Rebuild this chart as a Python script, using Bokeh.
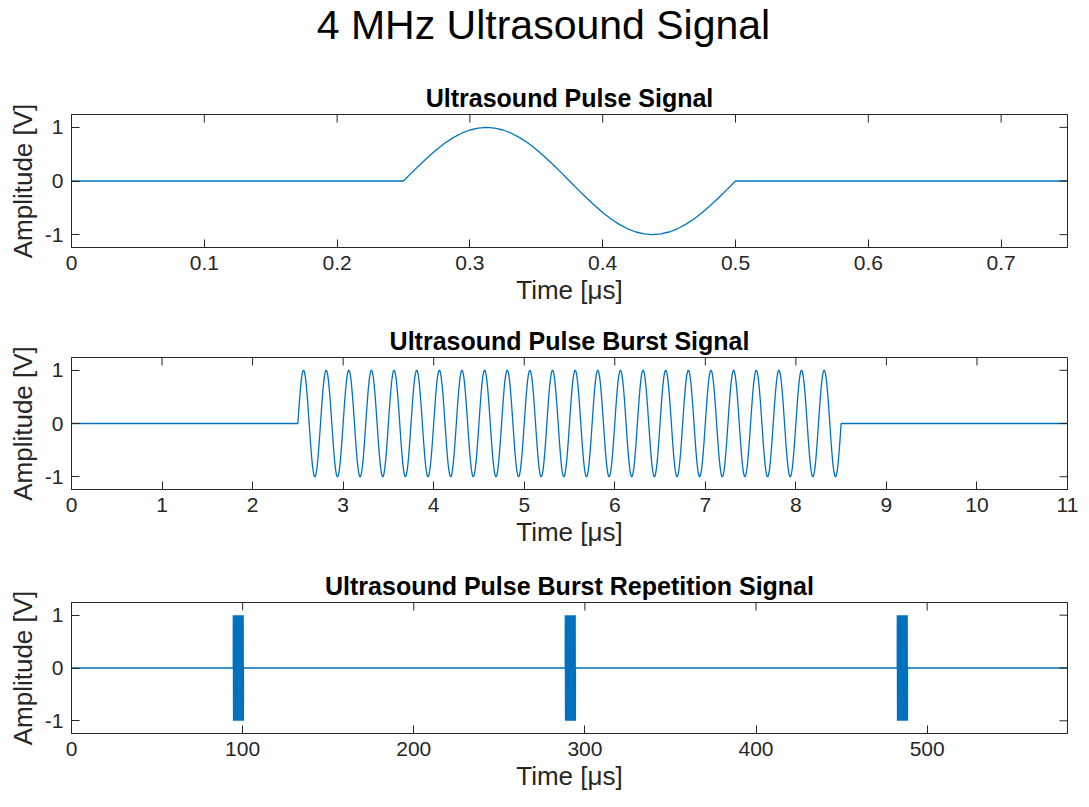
import numpy as np
from bokeh.plotting import figure
from bokeh.models import Title, FixedTicker, Range1d, Div
from bokeh.layouts import column
from bokeh.embed import file_html
from bokeh.resources import INLINE

# ---- data ----
freq_mhz = 4.0                      # carrier frequency, MHz (cycles per µs)
pulse_start_us = [0.25]             # single pulse
pulse_cycles = 1
pulse_xmax = 0.75
burst_start_us = [2.5]              # single burst
burst_cycles = 24
burst_xmax = 11
rep_start_us = [94.5, 288.5, 482.5] # repeated bursts
rep_xmax = 582

ticks1 = [0, 0.1, 0.2, 0.3, 0.4, 0.5, 0.6, 0.7]
ticks2 = list(range(0, 12))
ticks3 = [0, 100, 200, 300, 400, 500]
yticks = [-1, 0, 1]
ylim = 1.24

main_title = "4 MHz Ultrasound Signal"
titles = ["Ultrasound Pulse Signal", "Ultrasound Pulse Burst Signal",
          "Ultrasound Pulse Burst Repetition Signal"]
xlabel = "Time [μs]"
ylabel = "Amplitude [V]"

SPP = 40  # samples per period


def build_signal(starts, cycles, xmax):
    xs, ys = [0.0], [0.0]
    period = 1.0 / freq_mhz
    for s in starts:
        t = s + np.linspace(0, cycles * period, cycles * SPP + 1)
        xs += [s] + list(t)
        ys += [0.0] + list(np.sin(2 * np.pi * freq_mhz * (t - s)))
    xs.append(xmax)
    ys.append(0.0)
    return xs, ys


BLUE = "#0072BD"
AX = "#262626"
FONT = "Liberation Sans"
WIDTH = 1081
BL, BR = 71, 14
FRAME_W = WIDTH - BL - BR
TICK = 8
HEAD_H = 60


def make_fig(xs, ys, xmax, xticks, title, height, top, bottom, frame_h):
    p = figure(width=WIDTH, height=height, output_backend="svg", toolbar_location=None,
               x_range=Range1d(0, xmax), y_range=Range1d(-ylim, ylim),
               min_border_left=BL, min_border_right=BR, min_border_top=top,
               min_border_bottom=bottom, x_axis_label=xlabel, y_axis_label=ylabel)
    p.line(xs, ys, line_color=BLUE, line_width=1.3)
    p.grid.visible = False
    p.outline_line_color = AX
    p.outline_line_width = 1
    for ax, tk in ((p.xaxis[0], xticks), (p.yaxis[0], yticks)):
        ax.ticker = FixedTicker(ticks=tk)
        ax.axis_line_color = AX
        ax.major_tick_line_color = AX
        ax.major_tick_in = TICK
        ax.major_tick_out = 0
        ax.minor_tick_line_color = None
        ax.major_label_text_font = FONT
        ax.major_label_text_font_size = "21px"
        ax.major_label_text_color = AX
        ax.axis_label_text_font = FONT
        ax.axis_label_text_font_size = "26px"
        ax.axis_label_text_font_style = "normal"
        ax.axis_label_text_color = AX
    p.yaxis[0].major_label_overrides = {-1: "-1", 0: "0", 1: "1"}
    p.xaxis[0].major_label_standoff = 8
    p.xaxis[0].axis_label_standoff = 2
    p.yaxis[0].major_label_standoff = 8
    p.yaxis[0].axis_label_standoff = 4
    # mirrored inward ticks on the top and right edges of the box
    dy = TICK * 2 * ylim / frame_h
    dx = TICK * xmax / FRAME_W
    p.segment(x0=xticks, y0=[ylim] * len(xticks), x1=xticks, y1=[ylim - dy] * len(xticks),
              line_color=AX, line_width=1)
    p.segment(x0=[xmax] * len(yticks), y0=yticks, x1=[xmax - dx] * len(yticks), y1=yticks,
              line_color=AX, line_width=1)
    p.add_layout(Title(text=title, align="center", text_font=FONT, text_font_size="25px",
                       text_font_style="bold", text_color="black", standoff=5), "above")
    return p


x1, y1 = build_signal(pulse_start_us, pulse_cycles, pulse_xmax)
x2, y2 = build_signal(burst_start_us, burst_cycles, burst_xmax)
x3, y3 = build_signal(rep_start_us, burst_cycles, rep_xmax)

head = Div(text=main_title, width=WIDTH, height=HEAD_H,
           styles={"font-family": "Liberation Sans", "font-size": "41px",
                   "text-align": "center", "color": "black", "line-height": "50px",
                   "margin": "0", "padding": "0", "text-indent": "6px"})
p1 = make_fig(x1, y1, pulse_xmax, ticks1, titles[0], 320 - HEAD_H, 114 - HEAD_H, 73, 133)
p2 = make_fig(x2, y2, burst_xmax, ticks2, titles[1], 242, 37, 73, 132)
p3 = make_fig(x3, y3, rep_xmax, ticks3, titles[2], 243, 40, 72, 131)

layout = column(head, p1, p2, p3, spacing=0)
open("out.html", "w").write(file_html(layout, INLINE))
